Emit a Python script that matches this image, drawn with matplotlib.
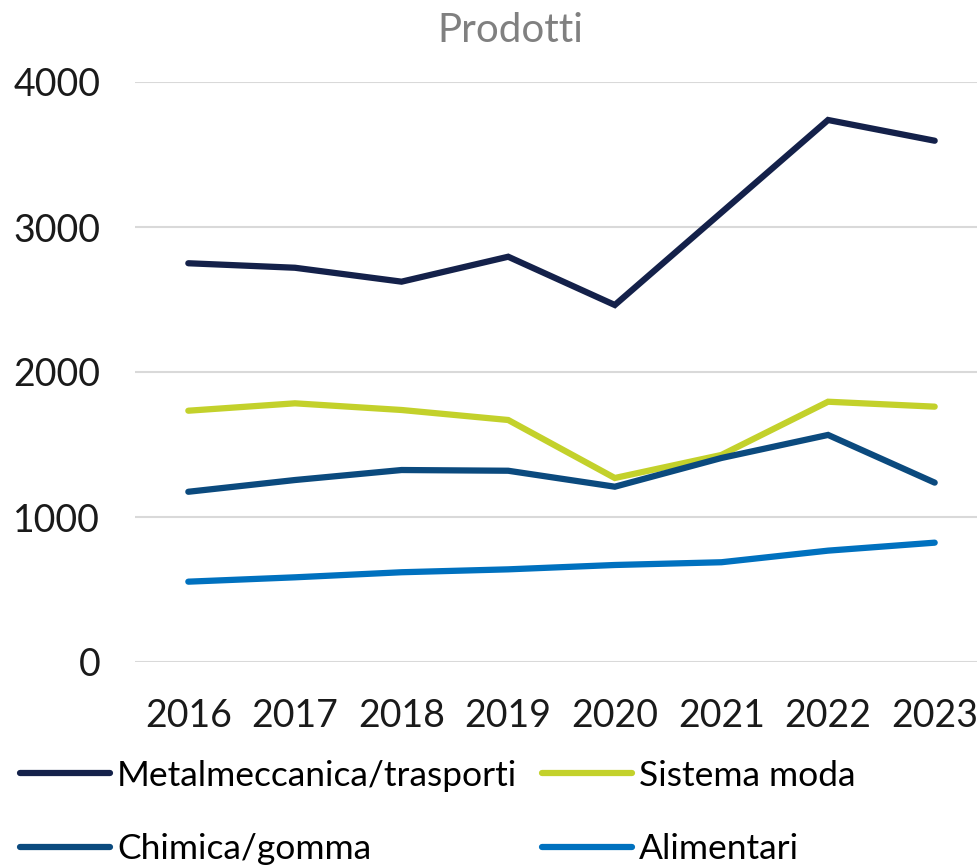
import matplotlib
matplotlib.use("Agg")
import matplotlib.pyplot as plt

years = [2016, 2017, 2018, 2019, 2020, 2021, 2022, 2023]
metalmeccanica = [2750, 2719, 2623, 2795, 2462, 3100, 3738, 3595]
sistema_moda = [1733, 1784, 1738, 1669, 1269, 1428, 1795, 1761]
chimica = [1174, 1255, 1324, 1319, 1209, 1407, 1566, 1237]
alimentari = [554, 584, 619, 639, 669, 688, 768, 823]

series_names = ['Metalmeccanica/trasporti', 'Sistema moda', 'Chimica/gomma', 'Alimentari']
colors = ['#14214a', '#c3d12b', '#0b4a7e', '#0071bf']

plt.rcParams['font.family'] = ['Lato', 'DejaVu Sans']

fig = plt.figure(figsize=(9.77, 8.67), dpi=100)
ax = fig.add_axes([135 / 977, 1 - 662 / 867, 853 / 977, (662 - 82) / 867])

series = [metalmeccanica, sistema_moda, chimica, alimentari]
lines = []
for vals, name, c in zip(series, series_names, colors):
    ln, = ax.plot(years, vals, color=c, lw=4.5, label=name, solid_capstyle='round',
                  solid_joinstyle='miter', clip_on=False)
    lines.append(ln)

ax.set_xlim(2015.5, 2023.5)
ax.set_ylim(0, 4000)
ax.set_yticks([0, 1000, 2000, 3000, 4000])
ax.set_xticks(years)
ax.grid(axis='y', color='#d9d9d9', lw=1.5)
ax.set_axisbelow(True)
for s in ax.spines.values():
    s.set_visible(False)
ax.tick_params(length=0, labelsize=27, colors='#1a1a1a')
ax.tick_params(axis='y', pad=25)
ax.tick_params(axis='x', pad=26)

fig.text(0.522, 0.965, 'Prodotti', ha='center', va='center', fontsize=29, color='#808080')

# reorder so the legend reads row by row
order = [0, 2, 1, 3]
fig.legend([lines[i] for i in order], [series_names[i] for i in order],
           loc='lower left', bbox_to_anchor=(0.02, 0.002), ncol=2, frameon=False,
           fontsize=25.5, handlelength=2.55, handletextpad=0.2, columnspacing=0.7,
           labelspacing=1.17, borderaxespad=0.0, borderpad=0.0)

fig.savefig('out.png', dpi=100)
